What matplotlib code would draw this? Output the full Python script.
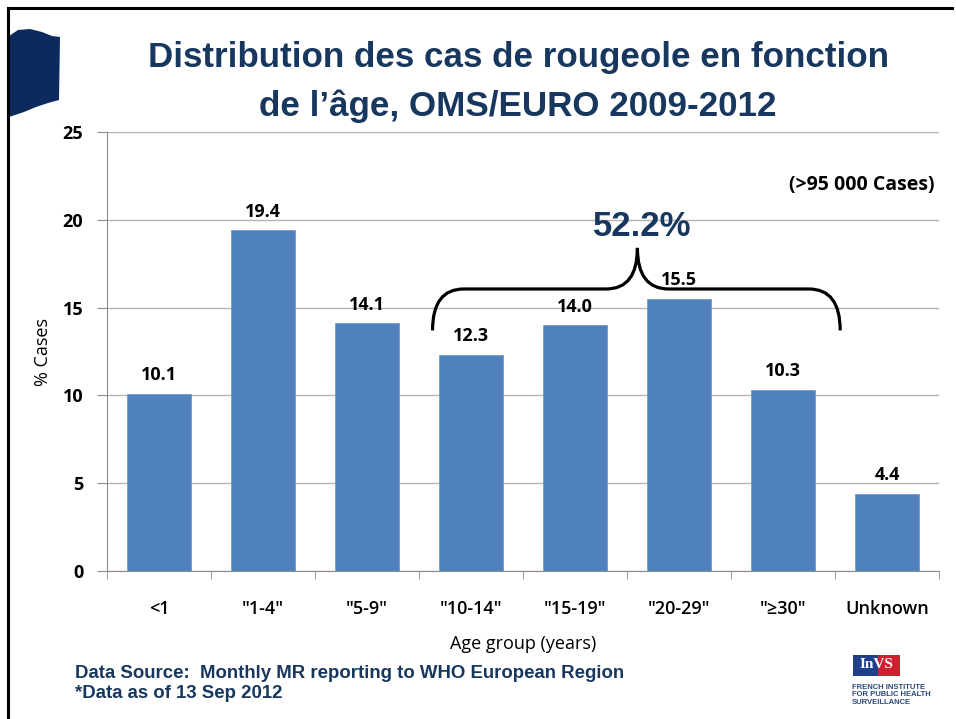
import numpy as np
import matplotlib.pyplot as plt
from matplotlib.path import Path
from matplotlib.patches import PathPatch, Polygon, Rectangle
from matplotlib.lines import Line2D
from matplotlib import font_manager

categories = ['<1', '"1-4"', '"5-9"', '"10-14"', '"15-19"', '"20-29"', '"≥30"', 'Unknown']
values = [10.1, 19.4, 14.1, 12.3, 14.0, 15.5, 10.3, 4.4]
yticks = [0, 5, 10, 15, 20, 25]

navy = '#17375e'
barcol = '#4f81bd'

names = {f.name for f in font_manager.fontManager.ttflist}
narrow = 'Liberation Sans Narrow' if 'Liberation Sans Narrow' in names else 'Liberation Sans'
body = 'Open Sans'
fs = 13

fig = plt.figure(figsize=(9.56, 7.19), dpi=100)
W, H = 956, 719

def fx(px): return px / W
def fy(py): return 1 - py / H

ax = fig.add_axes([fx(107), fy(571), 832 / W, 439 / H])
x = np.arange(len(categories))
ax.bar(x, values, width=0.61, color=barcol, edgecolor='#6f9bd0', linewidth=0.6, zorder=3)
ax.set_xlim(-0.5, len(categories) - 0.5)
ax.set_ylim(0, 25)
ax.set_yticks(yticks)
ax.set_yticklabels([str(t) for t in yticks], fontfamily=body, fontweight='bold', fontsize=fs)
ax.yaxis.grid(True, color='#b3b3b3', linewidth=1, zorder=0)
ax.tick_params(axis='y', length=7, color='#8c8c8c', pad=10)
ax.set_xticks(x)
ax.set_xticklabels(categories, fontfamily=body, fontweight='semibold', fontsize=fs)
ax.tick_params(axis='x', length=0, pad=21)
ax.set_xticks(np.arange(len(categories) + 1) - 0.5, minor=True)
ax.tick_params(axis='x', which='minor', length=6, color='#8c8c8c')
for s in ['top', 'right']:
    ax.spines[s].set_visible(False)
for s in ['left', 'bottom']:
    ax.spines[s].set_color('#8c8c8c')

for xi, v in zip(x, values):
    ax.text(xi, v + 0.55, f'{v:.1f}', ha='center', va='bottom',
            fontfamily=body, fontweight='bold', fontsize=fs)

ax.set_xlabel('Age group (years)', fontfamily=body, fontsize=fs, labelpad=12)
ax.set_ylabel('% Cases', fontfamily=body, fontsize=fs, labelpad=8)

ax.text(0.995, 0.879, '(>95 000 Cases)', transform=ax.transAxes, ha='right', va='center',
        fontfamily=body, fontweight='bold', fontsize=14)

# curly brace over groups 10-14 .. >=30
x0, x1, xm = 2.63, 6.55, 4.60
ye, yf, yt = 13.7, 16.06, 18.4
verts = [(x0, ye), (x0, yf), (x0 + 0.3, yf), (xm - 0.3, yf), (xm, yf), (xm, yt),
         (xm, yf), (xm + 0.3, yf), (x1 - 0.3, yf), (x1, yf), (x1, ye)]
codes = [Path.MOVETO, Path.CURVE3, Path.CURVE3, Path.LINETO, Path.CURVE3, Path.CURVE3,
         Path.CURVE3, Path.CURVE3, Path.LINETO, Path.CURVE3, Path.CURVE3]
ax.add_patch(PathPatch(Path(verts, codes), fill=False, lw=2.3, color='black',
                       clip_on=False, zorder=5))
ax.text(xm + 0.05, 19.6, '52.2%', ha='center', va='center', color=navy,
        fontfamily='Liberation Sans', fontweight='bold', fontsize=25)

# title
fig.text(fx(518), fy(58), 'Distribution des cas de rougeole en fonction',
         ha='center', va='center', color=navy, fontfamily=narrow, fontweight='bold', fontsize=25.2)
fig.text(fx(518), fy(106), 'de l\u2019âge, OMS/EURO 2009-2012',
         ha='center', va='center', color=navy, fontfamily=narrow, fontweight='bold', fontsize=25.2)

# frame lines
fig.add_artist(Line2D([fx(8), fx(8)], [fy(8), fy(719)], color='black', lw=2.2))
fig.add_artist(Line2D([fx(8), fx(952)], [fy(8), fy(8)], color='black', lw=2.2))

# flag shape
flag = [(9, 36), (18, 30), (30, 29), (42, 32), (52, 36), (60, 37), (59, 100),
        (48, 103), (36, 107), (24, 112), (9, 117)]
fig.add_artist(Polygon([(fx(a), fy(b)) for a, b in flag], closed=True,
                       facecolor='#0d2a5e', edgecolor='none', transform=fig.transFigure))

# footer
fig.text(fx(75), fy(673), 'Data Source:  Monthly MR reporting to WHO European Region',
         ha='left', va='center', color=navy, fontfamily=narrow, fontweight='bold', fontsize=13.4)
fig.text(fx(75), fy(694), '*Data as of 13 Sep 2012',
         ha='left', va='center', color=navy, fontfamily=narrow, fontweight='bold', fontsize=13.4)

# logo
fig.add_artist(Rectangle((fx(853), fy(676)), 25 / W, 21 / H, facecolor='#1f3f8a',
                         edgecolor='none', transform=fig.transFigure))
fig.add_artist(Rectangle((fx(878), fy(676)), 22 / W, 21 / H, facecolor='#d02030',
                         edgecolor='none', transform=fig.transFigure))
fig.text(fx(876), fy(665), 'InVS', ha='center', va='center', color='white',
         fontfamily='Liberation Serif', fontweight='bold', fontsize=11)
fig.text(fx(852), fy(695), 'FRENCH INSTITUTE\nFOR PUBLIC HEALTH\nSURVEILLANCE', ha='left',
         va='center', color='#2a4a7a', fontfamily=narrow, fontweight='bold', fontsize=5.5,
         linespacing=1.1)

fig.savefig('out.png', dpi=100)
